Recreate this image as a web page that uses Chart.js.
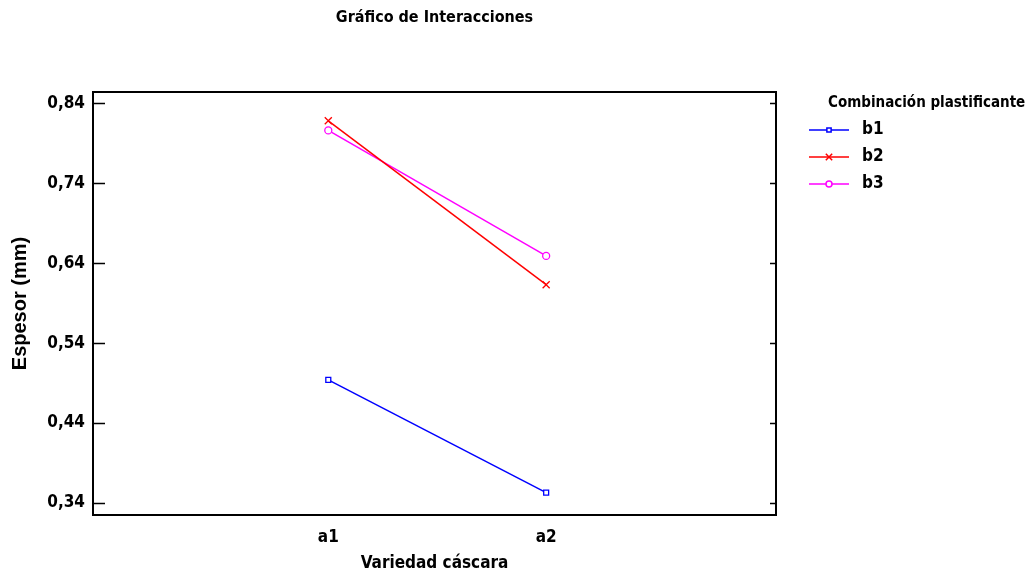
<!DOCTYPE html>
<html>
<head>
<meta charset="utf-8">
<script src="https://cdn.jsdelivr.net/npm/chart.js@4"></script>
<style>
  body { margin: 0; background: #fff; }
  #wrap { width: 1030px; height: 578px; }
</style>
</head>
<body>
<div id="wrap"><canvas id="chart" width="1030" height="578"></canvas></div>
<script>
// Espesor por variedad de cáscara y combinación de plastificante
const chartTitle = 'Gráfico de Interacciones';
const varieties = ['a1', 'a2'];
const groups = ['b1', 'b2', 'b3'];
const b1Values = [0.494, 0.353];
const b2Values = [0.818, 0.613];
const b3Values = [0.806, 0.649];
const yTicks = [0.34, 0.44, 0.54, 0.64, 0.74, 0.84];

const colors = ['#0000ff', '#ff0000', '#ff00ff'];
const markers = ['rect', 'crossRot', 'circle'];
const markerSizes = [3.5, 5, 3.5];
const seriesValues = [b1Values, b2Values, b3Values];

const narrow = '"DejaVu Sans Condensed", "Liberation Sans Narrow", sans-serif';
const wide = '"Liberation Sans", Arial, sans-serif';

const datasets = groups.map((name, i) => ({
  label: name,
  data: seriesValues[i].map((v, j) => ({ x: j + 1, y: v })),
  borderColor: colors[i],
  backgroundColor: 'rgba(0,0,0,0)',
  borderWidth: 1.5,
  pointStyle: markers[i],
  pointRadius: markerSizes[i],
  pointBorderWidth: 1.3,
  pointBorderColor: colors[i],
  pointBackgroundColor: '#fff',
  tension: 0
}));

// Frame, inward ticks, title over the plot and the legend block
const framePlugin = {
  id: 'frame',
  afterDraw(chart) {
    const ctx = chart.ctx;
    const a = chart.chartArea;
    const y = chart.scales.y;
    ctx.save();
    ctx.strokeStyle = '#000';
    ctx.lineWidth = 2;
    ctx.strokeRect(a.left, a.top, a.right - a.left, a.bottom - a.top);
    ctx.lineWidth = 1.5;
    yTicks.forEach(v => {
      const py = Math.round(y.getPixelForValue(v)) + 0.5;
      ctx.beginPath();
      ctx.moveTo(a.left, py); ctx.lineTo(a.left + 12, py);
      ctx.moveTo(a.right, py); ctx.lineTo(a.right - 6, py);
      ctx.stroke();
    });

    ctx.fillStyle = '#000';
    ctx.textBaseline = 'middle';
    ctx.textAlign = 'center';
    ctx.font = 'bold 16px ' + narrow;
    ctx.fillText(chartTitle, (a.left + a.right) / 2, 18);

    // legend
    const lx = 809, ty = 103;
    ctx.textAlign = 'left';
    ctx.font = 'bold 15px ' + narrow;
    ctx.fillText('Combinación plastificante', 828, ty);
    chart.data.datasets.forEach((ds, i) => {
      const iy = ty + 27 * (i + 1);
      ctx.strokeStyle = ds.borderColor;
      ctx.lineWidth = 1.5;
      ctx.beginPath();
      ctx.moveTo(lx, iy); ctx.lineTo(lx + 40, iy);
      ctx.stroke();
      ctx.fillStyle = '#fff';
      Chart.helpers.drawPoint(ctx, {
        pointStyle: ds.pointStyle, radius: ds.pointRadius - 0.5, borderWidth: 1.3, rotation: 0
      }, lx + 20, iy);
      ctx.fillStyle = '#000';
      ctx.font = 'bold 17px ' + narrow;
      ctx.fillText(ds.label, 862, iy);
    });
    ctx.restore();
  }
};

new Chart(document.getElementById('chart'), {
  type: 'line',
  data: { datasets },
  options: {
    responsive: false,
    animation: false,
    layout: { padding: { top: 92, right: 254, bottom: 0, left: 0 } },
    plugins: {
      legend: { display: false },
      tooltip: { enabled: false },
      title: { display: false }
    },
    scales: {
      x: {
        type: 'linear',
        min: -0.08,
        max: 3.055,
        afterBuildTicks: s => { s.ticks = varieties.map((_, i) => ({ value: i + 1 })); },
        afterFit: s => { s.height = 63; },
        grid: { display: false },
        border: { display: false },
        ticks: {
          color: '#000',
          padding: 4,
          font: { family: narrow, size: 17, weight: 'bold' },
          callback: v => varieties[v - 1]
        },
        title: {
          display: true,
          text: 'Variedad cáscara',
          color: '#000',
          font: { family: narrow, size: 17, weight: 'bold' },
          padding: { top: 2 }
        }
      },
      y: {
        min: 0.325,
        max: 0.854,
        afterBuildTicks: s => { s.ticks = yTicks.map(v => ({ value: v })); },
        afterFit: s => { s.width = 93; },
        grid: { display: false },
        border: { display: false },
        ticks: {
          color: '#000',
          padding: 0,
          font: { family: narrow, size: 17, weight: 'bold' },
          callback: v => v.toFixed(2).replace('.', ',')
        },
        title: {
          display: true,
          text: 'Espesor (mm)',
          color: '#000',
          font: { family: wide, size: 20, weight: 'bold' },
          padding: { top: 8, bottom: 0 }
        }
      }
    }
  },
  plugins: [framePlugin]
});
</script>
</body>
</html>
